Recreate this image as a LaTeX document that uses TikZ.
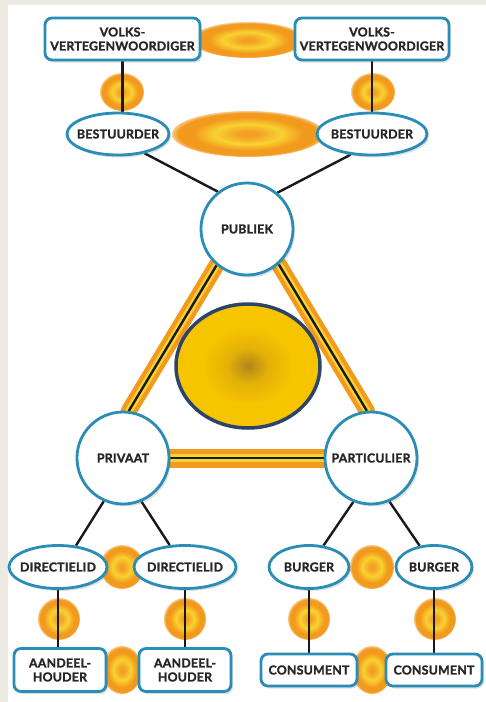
\documentclass[tikz,border=0pt]{standalone}
\usepackage{fontspec}
\setmainfont{Lato}[LetterSpace=2, BoldFeatures={FakeBold=1.6}]
\usetikzlibrary{shapes.geometric,shadows,backgrounds}
\definecolor{bgbeige}{HTML}{ECEAE2}
\definecolor{nodeblue}{HTML}{2A8DB5}
\definecolor{orA}{HTML}{F29A1D}
\definecolor{orFade}{HTML}{F8C98C}
\definecolor{yeA}{HTML}{F8D232}
\definecolor{orC}{HTML}{F3A024}
\definecolor{goldIn}{HTML}{B0861A}
\definecolor{goldMid}{HTML}{E3B008}
\definecolor{goldOut}{HTML}{F7C500}
\definecolor{navy}{HTML}{2B4468}
\definecolor{txt}{HTML}{262626}
\pgfdeclareradialshading{ringshade}{\pgfpoint{0bp}{0bp}}{color(0bp)=(orC); color(3bp)=(orC); color(11bp)=(yeA); color(18bp)=(orA); color(23bp)=(orA); color(25bp)=(orFade); color(50bp)=(orFade)}
\pgfdeclareradialshading{coreshade}{\pgfpoint{0bp}{0bp}}{color(0bp)=(goldIn); color(7bp)=(goldMid); color(16bp)=(goldOut); color(50bp)=(goldOut)}
\begin{document}
\begin{tikzpicture}[x=1pt,y=-1pt,
  lbl/.style={font=\fontsize{12.3}{14}\selectfont\bfseries, text=txt, align=center, inner sep=0pt},
  nd/.style={lbl, draw=nodeblue, line width=2.8pt, fill=white, drop shadow={shadow xshift=2pt, shadow yshift=-2.5pt, opacity=0.25}},
  rbox/.style={nd, rectangle, rounded corners=7pt},
  ell/.style={nd, ellipse, inner xsep=-16pt},
  circ/.style={nd, circle, minimum size=92pt},
  ring/.style={shading=ringshade},
  link/.style={line width=2.4pt, black!90},
  bar/.style={line width=2.4pt, black!90,
    preaction={draw=orA, line width=#1, line cap=round},
    preaction={draw=yeA, line width=0.45*#1, line cap=round}},
]
\useasboundingbox (0,0) rectangle (486,702);

% nodes
\node[rbox, minimum width=155pt, minimum height=42pt] (v1) at (122.5,39) {VOLKS-\\VERTEGENWOORDIGER};
\node[rbox, minimum width=154pt, minimum height=42pt] (v2) at (372,39) {VOLKS-\\VERTEGENWOORDIGER};
\node[ell, minimum width=102pt, minimum height=42pt] (b1) at (118,134) {BESTUURDER};
\node[ell, minimum width=110pt, minimum height=42pt] (b2) at (372,134) {BESTUURDER};
\node[circ] (pub) at (247,229) {PUBLIEK};
\node[draw=navy, line width=3.5pt, ellipse, minimum width=144pt, minimum height=124pt, shading=coreshade] (core) at (248,366) {};
\node[circ] (priv) at (123,458) {PRIVAAT};
\node[circ] (part) at (371,458) {PARTICULIER};
\node[ell, minimum width=98pt, minimum height=43pt] (d1) at (58,567) {DIRECTIELID};
\node[ell, minimum width=102pt, minimum height=43pt] (d2) at (185,567) {DIRECTIELID};
\node[ell, minimum width=80pt, minimum height=43pt] (bu1) at (309,567) {BURGER};
\node[ell, minimum width=76pt, minimum height=43pt] (bu2) at (434,567) {BURGER};
\node[rbox, minimum width=92pt, minimum height=43pt] (a1) at (60,670) {AANDEEL-\\HOUDER};
\node[rbox, minimum width=92pt, minimum height=43pt] (a2) at (185,670) {AANDEEL-\\HOUDER};
\node[rbox, minimum width=96pt, minimum height=32pt] (c1) at (309,670) {CONSUMENT};
\node[rbox, minimum width=96pt, minimum height=32pt] (c2) at (434,670) {CONSUMENT};

\begin{scope}[on background layer]
  \fill[bgbeige] (0,0) rectangle (486,702);
  \fill[white] (8,5) rectangle (486,702);
  % orange rings
  \shade[ring] (248,40) ellipse [x radius=56, y radius=18];
  \shade[ring] (248,134) ellipse [x radius=76, y radius=23];
  \shade[ring] (122,92) ellipse [x radius=22, y radius=19];
  \shade[ring] (373,92) ellipse [x radius=22, y radius=19];
  \shade[ring] (122,567) circle [radius=22];
  \shade[ring] (372,567) circle [radius=22];
  \shade[ring] (59,619) circle [radius=21];
  \shade[ring] (185,619) circle [radius=21];
  \shade[ring] (309,619) circle [radius=21];
  \shade[ring] (435,619) circle [radius=21];
  \shade[ring] (122,670) ellipse [x radius=20, y radius=24];
  \shade[ring] (372,670) ellipse [x radius=20, y radius=24];
  % triangle bars
  \draw[bar=16pt] (pub.-130) -- (priv.83);
  \draw[bar=16pt] (pub.-48) -- (part.95);
  \draw[bar=19pt] (priv.east) -- (part.west);
  % connectors
  \draw[link] (v1.south) -- (v1.south |- b1.north);
  \draw[link] (v2.south) -- (v2.south |- b2.north);
  \draw[link] (b1.-36) -- (pub.128);
  \draw[link] (b2.-136) -- (pub.50);
  \draw[link] (priv.-114) -- (d1.50);
  \draw[link] (priv.-67) -- (d2.125);
  \draw[link] (part.-112) -- (bu1.56);
  \draw[link] (part.-67) -- (bu2.124);
  \draw[link] (d1.south) -- (d1.south |- a1.north);
  \draw[link] (d2.south) -- (d2.south |- a2.north);
  \draw[link] (bu1.south) -- (bu1.south |- c1.north);
  \draw[link] (bu2.south) -- (bu2.south |- c2.north);
\end{scope}
\end{tikzpicture}
\end{document}
